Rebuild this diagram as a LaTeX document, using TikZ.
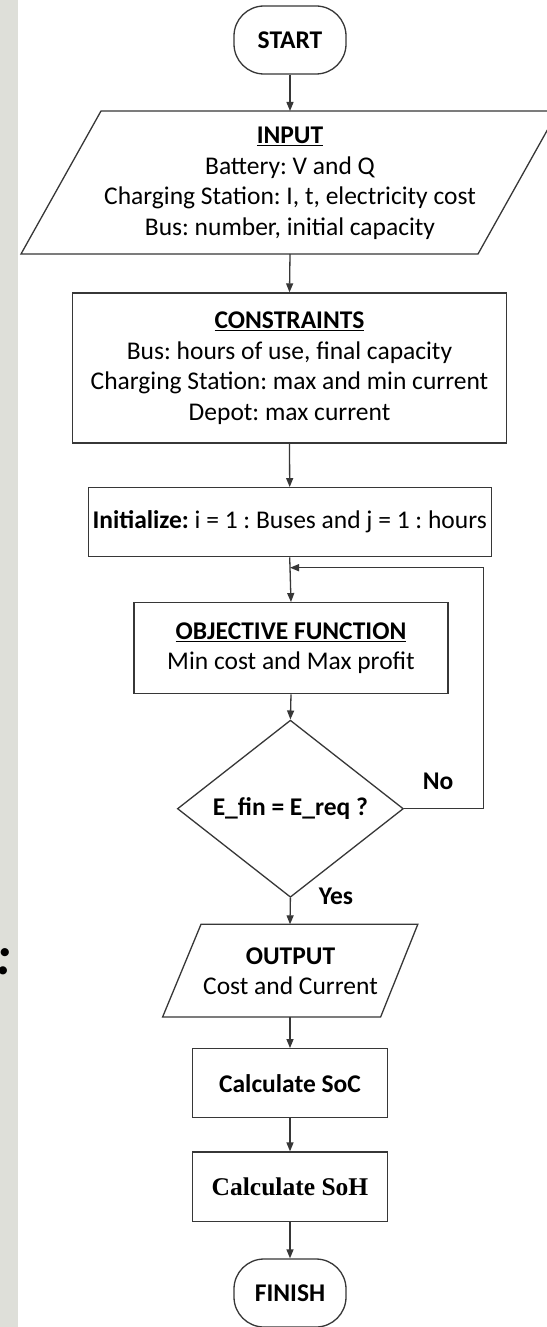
\documentclass[tikz,border=0pt]{standalone}
\usepackage{fontspec}
\setmainfont{Carlito}
\newfontfamily\timesfont{Liberation Serif}
\usetikzlibrary{arrows.meta,shapes.geometric}
\definecolor{gstrip}{RGB}{222,223,217}
\definecolor{lineclr}{RGB}{55,55,55}
\frenchspacing
\tikzset{
  base/.style={font=\fontsize{25.5}{30.5}\selectfont, inner sep=0pt},
  boxnode/.style={base, draw=lineclr, line width=1.3pt, rectangle, align=center},
  termnode/.style={base, draw=lineclr, line width=1.3pt, rectangle, rounded corners=30pt,
    minimum width=112pt, minimum height=68pt},
  decnode/.style={base, draw=lineclr, line width=1.3pt, diamond,
    minimum width=226pt, minimum height=134pt},
  txtnode/.style={base, align=center},
  lbl/.style={base, font=\fontsize{25.5}{30.5}\selectfont\bfseries},
  shapeline/.style={draw=lineclr, line width=1.3pt},
  arr/.style={draw=lineclr, line width=1.3pt, -{Triangle[length=9pt,width=7pt]}},
}
\begin{document}
\begin{tikzpicture}[x=1pt,y=-1pt]
\useasboundingbox (0,0) rectangle (546,1327);
\fill[white] (0,0) rectangle (546,1327);
\fill[gstrip] (0,0) rectangle (18,1327);
\node[base, font=\fontsize{55}{55}\selectfont\bfseries\itshape, anchor=base west] (colon) at (-3.5,974) {:};

% START
\node[termnode] (start) at (290,40) {\textbf{START}};

% INPUT parallelogram
\draw[shapeline] (101,111) -- (558,111) -- (478,254) -- (21,254) -- cycle;
\coordinate (inT) at (290,111);
\coordinate (inB) at (290,254);
\node[txtnode] (inp) at (290,183.5) {\textbf{\underline{INPUT}}\\Battery: V and Q\\Charging Station: I, t, electricity cost\\Bus: number, initial capacity};

% CONSTRAINTS
\node[boxnode, minimum width=434pt, minimum height=150pt] (cons) at (289.5,368) {\textbf{\underline{CONSTRAINTS}}\\Bus: hours of use, final capacity\\Charging Station: max and min current\\Depot: max current};

% Initialize
\node[boxnode, minimum width=403pt, minimum height=69pt] (init) at (289.7,522.2) {\textbf{Initialize:} i = 1 : Buses and j = 1 : hours};

% Objective
\node[boxnode, minimum width=314pt, minimum height=91pt] (obj) at (291,648.2) {\textbf{\underline{OBJECTIVE FUNCTION}}\\Min cost and Max profit};

% Decision
\node[decnode] (dec) at (290.4,808.7) {\textbf{E\_fin = E\_req ?}};

% OUTPUT parallelogram
\draw[shapeline] (201,924.3) -- (417.8,924.3) -- (380.6,1017) -- (162.6,1017) -- cycle;
\coordinate (outT) at (290,924.3);
\coordinate (outB) at (290,1017);
\node[txtnode] (outn) at (290.5,971) {\textbf{OUTPUT}\\Cost and Current};

% SoC, SoH
\node[boxnode, minimum width=195pt, minimum height=69pt] (soc) at (290,1083.2) {\textbf{Calculate SoC}};
\node[boxnode, minimum width=195pt, minimum height=69.7pt] (soh) at (290,1186.9) {\timesfont\bfseries Calculate SoH};

% FINISH
\node[termnode] (fin) at (290,1293) {\textbf{FINISH}};

% labels
\node[lbl] (no) at (438,781.7) {No};
\node[lbl] (yes) at (336,896.7) {Yes};

% connectors
\coordinate (loopJ) at (290,567.7);
\coordinate (loopTop) at (483.3,567.7);
\draw[arr] (start.south) -- (inT);
\draw[arr] (inB) -- (cons.north);
\draw[arr] (cons.south) -- (init.north);
\draw[arr] (init.south) -- (obj.north);
\draw[arr] (obj.south) -- (dec.north);
\draw[arr] (dec.east) -| (loopTop) -- (loopJ);
\draw[arr] (dec.south) -- (outT);
\draw[arr] (outB) -- (soc.north);
\draw[arr] (soc.south) -- (soh.north);
\draw[arr] (soh.south) -- (fin.north);
\end{tikzpicture}
\end{document}
